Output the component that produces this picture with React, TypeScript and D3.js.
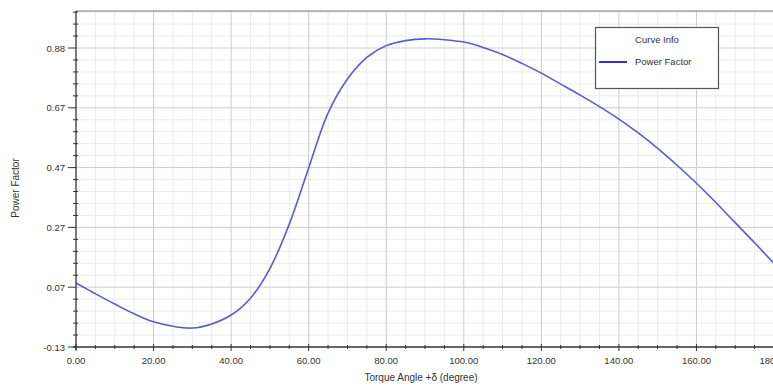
import React from "react";
import * as d3 from "d3";

// Power factor vs. torque angle, sampled every 5 degrees
const angles = [
  0, 5, 10, 15, 20, 25, 30, 35, 40, 45, 50, 55, 60, 65, 70, 75, 80, 85, 90,
  95, 100, 105, 110, 115, 120, 125, 130, 135, 140, 145, 150, 155, 160, 165, 170, 175, 180,
];
const powerFactor = [
  0.086, 0.05, 0.015, -0.018, -0.045, -0.06, -0.066, -0.052, -0.022, 0.035, 0.135,
  0.285, 0.475, 0.66, 0.775, 0.848, 0.888, 0.905, 0.911, 0.908, 0.9, 0.882, 0.858,
  0.828, 0.795, 0.758, 0.721, 0.682, 0.64, 0.593, 0.541, 0.484, 0.423, 0.358, 0.29,
  0.222, 0.152,
];

const xTicks = [0, 20, 40, 60, 80, 100, 120, 140, 160, 180];
const yTickValues = [-0.13, 0.072, 0.274, 0.476, 0.678, 0.88];
const yTickLabels = ["-0.13", "0.07", "0.27", "0.47", "0.67", "0.88"];

const seriesName = "Power Factor";
const legendTitle = "Curve Info";
const xTitle = "Torque Angle +δ (degree)";
const yTitle = "Power Factor";

const W = 773;
const H = 387;
const left = 76;
const right = 774;
const top = 11;
const bottom = 347;
const FONT = "'Liberation Sans', Arial, sans-serif";

export default function App() {
  const x = d3.scaleLinear().domain([0, 180]).range([left, right]);
  const y = d3.scaleLinear().domain([-0.13, 1.005]).range([bottom, top]);

  const line = d3
    .line<number>()
    .x((_, i) => x(angles[i]))
    .y((d) => y(d))
    .curve(d3.curveCatmullRom.alpha(0.5));

  const xMinor = d3.range(0, 181, 5).filter((v) => v % 20 !== 0);
  const yStep = (yTickValues[1] - yTickValues[0]) / 5;
  const yMinor: number[] = [];
  for (let v = yTickValues[0]; v <= 1.005; v += yStep) {
    const isMajor = yTickValues.some((t) => Math.abs(t - v) < 1e-6);
    if (!isMajor) yMinor.push(v);
  }

  return (
    <svg
      width={W}
      height={H}
      style={{ position: "absolute", left: 0, top: 0, background: "#fff" }}
      fontFamily={FONT}
    >
      <defs>
        <clipPath id="plot">
          <rect x={left} y={top} width={right - left} height={bottom - top} />
        </clipPath>
      </defs>

      {/* minor grid */}
      <g stroke="#ebebeb" strokeWidth={1}>
        {xMinor.map((v) => (
          <line key={"xm" + v} x1={x(v)} x2={x(v)} y1={top} y2={bottom} />
        ))}
        {yMinor.map((v, i) => (
          <line key={"ym" + i} x1={left} x2={W} y1={y(v)} y2={y(v)} />
        ))}
      </g>

      {/* major grid */}
      <g stroke="#cdcdcd" strokeWidth={1}>
        {xTicks.slice(1).map((v) => (
          <line key={"xg" + v} x1={x(v)} x2={x(v)} y1={top} y2={bottom} />
        ))}
        {yTickValues.slice(1).map((v) => (
          <line key={"yg" + v} x1={left} x2={W} y1={y(v)} y2={y(v)} />
        ))}
      </g>

      {/* curve */}
      <path
        d={line(powerFactor) || ""}
        fill="none"
        stroke="#5a5ad6"
        strokeWidth={1.6}
        clipPath="url(#plot)"
      />

      {/* frame */}
      <line x1={left} x2={W} y1={top} y2={top} stroke="#777" strokeWidth={1.2} />
      <line x1={left} x2={left} y1={top} y2={bottom + 3} stroke="#333" strokeWidth={1.3} />
      <line x1={left - 3} x2={W} y1={bottom} y2={bottom} stroke="#333" strokeWidth={1.3} />

      {/* y axis ticks */}
      <g stroke="#333" strokeWidth={1}>
        {yTickValues.map((v) => (
          <line key={"yt" + v} x1={left - 8} x2={left} y1={y(v)} y2={y(v)} />
        ))}
        {yMinor.map((v, i) => (
          <line key={"ymt" + i} x1={left - 3} x2={left + 2} y1={y(v)} y2={y(v)} />
        ))}
      </g>
      <g fontSize={9.5} fill="#333" textAnchor="end">
        {yTickValues.map((v, i) => (
          <text key={"yl" + v} x={left - 11} y={y(v) + 3.5}>
            {yTickLabels[i]}
          </text>
        ))}
      </g>

      {/* x axis ticks */}
      <g stroke="#333" strokeWidth={1}>
        {xTicks.map((v) => (
          <line key={"xt" + v} x1={x(v)} x2={x(v)} y1={bottom - 3} y2={bottom + 4} />
        ))}
        {xMinor.map((v) => (
          <line key={"xmt" + v} x1={x(v)} x2={x(v)} y1={bottom - 2} y2={bottom + 2} />
        ))}
      </g>
      <g fontSize={9.5} fill="#333" textAnchor="middle">
        {xTicks.map((v) => (
          <text key={"xl" + v} x={x(v)} y={bottom + 17}>
            {v.toFixed(2)}
          </text>
        ))}
      </g>

      {/* axis titles */}
      <text x={421} y={381} fontSize={10} fill="#333" textAnchor="middle">
        {xTitle}
      </text>
      <text
        transform={`translate(19, ${188}) rotate(-90)`}
        fontSize={10}
        fill="#333"
        textAnchor="middle"
      >
        {yTitle}
      </text>

      {/* legend */}
      <g>
        <rect x={595.5} y={27.5} width={123} height={61} fill="#fff" stroke="#555" strokeWidth={1.2} />
        <text x={657} y={43} fontSize={9.5} fill="#333" textAnchor="middle">
          {legendTitle}
        </text>
        <line x1={599} x2={627} y1={62} y2={62} stroke="#3333dd" strokeWidth={2} />
        <text x={635} y={65} fontSize={9.5} fill="#333">
          {seriesName}
        </text>
      </g>
    </svg>
  );
}
